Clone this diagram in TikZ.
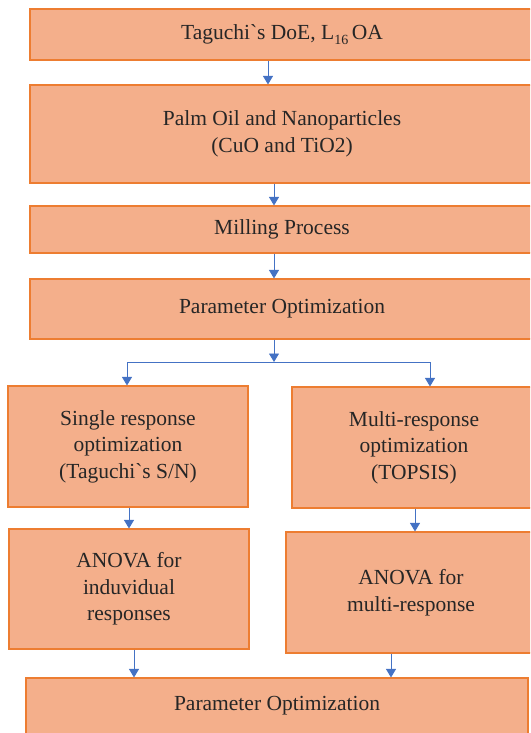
\documentclass[tikz,border=0pt]{standalone}
\usepackage{fontspec}
\setmainfont{Liberation Serif}
\usetikzlibrary{arrows.meta, positioning, calc}

\begin{document}
\begin{tikzpicture}[x=1pt, y=1pt]

% ---------------------------------------------------------------- colours
\definecolor{boxfill}{HTML}{F4AF8B}   % step boxes
\definecolor{boxline}{HTML}{ED7D31}   % their border
\definecolor{flow}{HTML}{4472C4}      % arrows
\definecolor{ink}{HTML}{262626}       % text

\tikzset{
    stepbox/.style={rectangle, draw=boxline, line width=1.1pt, fill=boxfill,
                    text=ink, align=center, inner sep=0pt,
                    font=\fontsize{21.5}{26.5}\selectfont},
    arr/.style={-{Triangle[width=10pt, length=8.5pt]}, line width=0.9pt, flow},
    link/.style={line width=0.9pt, flow},
}

% ================================================================
% GEOMETRY (1 unit = 1 px of the 530 x 733 frame, y downwards < 0)
%   main column         x = 30 .. 534, centre 282
%   left branch         x = 8 .. 249,  centre ~128
%   right branch        x = 286 .. 535, centre ~411
%   split line          y = 362, x = 127 .. 430
% ================================================================
\useasboundingbox (0,0) rectangle (530,-733);
\clip (0,0) rectangle (530,-733);

% ---------------------------------------------------------------- main column
\node[stepbox, minimum width=504pt, minimum height=51pt] (doe) at (282,-34.5)
    {Taguchi\textasciigrave s DoE, L\raisebox{-0.45ex}{\fontsize{14}{14}\selectfont 16}\,OA};
\node[stepbox, minimum width=504pt, minimum height=98pt] (oil) at (282,-134)
    {Palm Oil and Nanoparticles\\(CuO and TiO2)};
\node[stepbox, minimum width=504pt, minimum height=47pt] (mill) at (282,-229.5)
    {Milling Process};
\node[stepbox, minimum width=504pt, minimum height=60pt] (param) at (282,-309)
    {Parameter Optimization};

% ---------------------------------------------------------------- branches
\node[stepbox, minimum width=240pt, minimum height=121pt] (single) at (128,-446.5)
    {Single response\\optimization\\(Taguchi\textasciigrave s S/N)};
\node[stepbox, minimum width=244pt, minimum height=121pt] (multi) at (414,-447.5)
    {Multi-response\\optimization\\(TOPSIS)};
\node[stepbox, minimum width=240pt, minimum height=120pt] (anovaS) at (129,-589)
    {ANOVA for\\induvidual\\responses};
\node[stepbox, minimum width=250pt, minimum height=121pt] (anovaM) at (411,-592.5)
    {ANOVA for\\multi-response};

% ---------------------------------------------------------------- result
\node[stepbox, minimum width=502pt, minimum height=56pt] (final) at (277,-706)
    {Parameter Optimization};

% ---------------------------------------------------------------- arrows
\coordinate (split) at (274,-362);
\coordinate (splitL) at (127,-362);
\coordinate (splitR) at (430,-362);

\draw[arr] ([xshift=-14pt]doe.south) -- ([xshift=-14pt]doe.south |- oil.north);
\draw[arr] ([xshift=-8pt]oil.south) -- ([xshift=-8pt]oil.south |- mill.north);
\draw[arr] ([xshift=-8pt]mill.south) -- ([xshift=-8pt]mill.south |- param.north);
\draw[arr] ([xshift=-8pt]param.south) -- (split);
\draw[link] (splitL) -- (splitR);
\draw[arr] (splitL) -- (splitL |- single.north);
\draw[arr] (splitR) -- (splitR |- multi.north);

\draw[arr] ([xshift=1pt]single.south) -- ([xshift=1pt]single.south |- anovaS.north);
\draw[arr] ([xshift=1pt]multi.south) -- ([xshift=1pt]multi.south |- anovaM.north);
\draw[arr] ([xshift=5pt]anovaS.south) -- ([xshift=5pt]anovaS.south |- final.north);
\draw[arr] ([xshift=-20pt]anovaM.south) -- ([xshift=-20pt]anovaM.south |- final.north);

\end{tikzpicture}
\end{document}
